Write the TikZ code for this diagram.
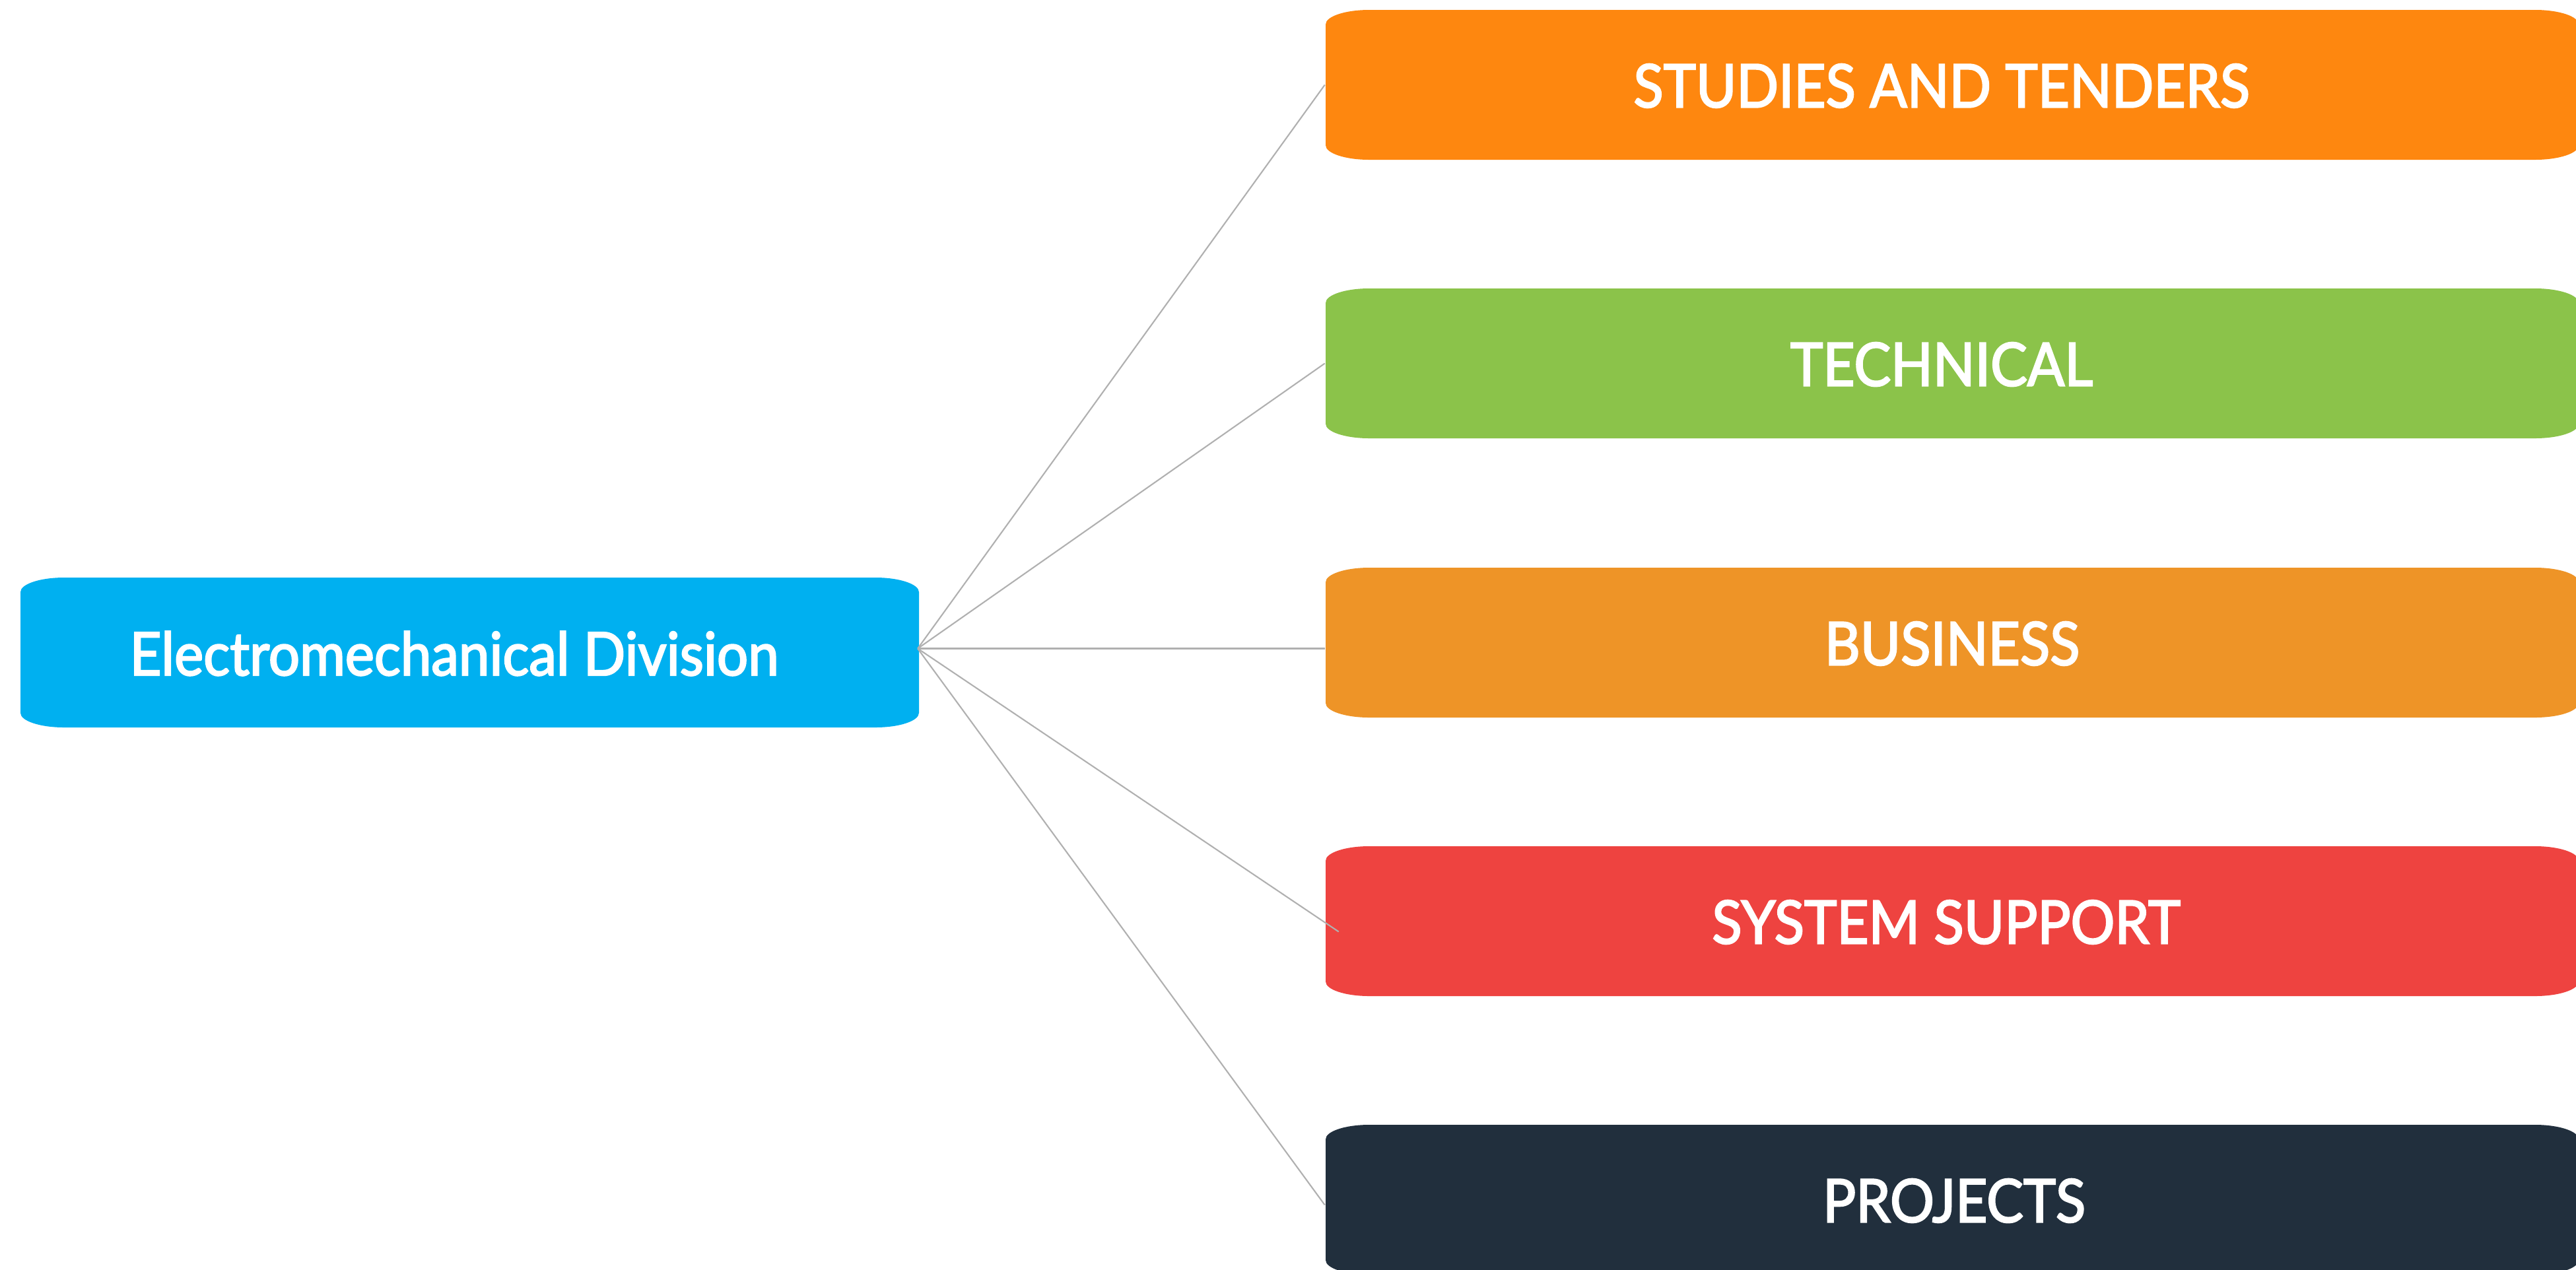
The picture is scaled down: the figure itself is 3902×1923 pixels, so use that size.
\documentclass[tikz,border=0pt]{standalone}
\usepackage{fontspec}
\setmainfont{Lato}
\newfontfamily\lblfont{Lato}[FakeBold=2.5, FakeStretch=0.92]
\definecolor{cblue}{HTML}{00B0F0}
\definecolor{corange}{HTML}{FE870F}
\definecolor{cgreen}{HTML}{8BC34A}
\definecolor{cbiz}{HTML}{EE9427}
\definecolor{cred}{HTML}{EE4340}
\definecolor{cdark}{HTML}{212F3D}
\definecolor{cline}{HTML}{B0B0B0}
\newcommand\ebox[5]{%
  \fill[#5] (#1,#2+22) .. controls (#1,#2+9.85) and (#1+29.5,#2) .. (#1+66,#2)
    -- (#3-66,#2) .. controls (#3-29.5,#2) and (#3,#2+9.85) .. (#3,#2+22)
    -- (#3,#4-22) .. controls (#3,#4-9.85) and (#3-29.5,#4) .. (#3-66,#4)
    -- (#1+66,#4) .. controls (#1+29.5,#4) and (#1,#4-9.85) .. (#1,#4-22) -- cycle;}
\tikzset{
  lbl/.style={text=white, inner sep=0pt, font=\lblfont\fontsize{25.8}{30}\selectfont},
  mainbox/.style={inner sep=0pt, minimum width=13.61cm, minimum height=2.27cm},
  subbox/.style={inner sep=0pt, minimum width=18.98cm, minimum height=2.27cm},
  conn/.style={draw=cline, line width=0.6pt}
}
\begin{document}
\begin{tikzpicture}[x=0.01cm,y=-0.01cm]
\useasboundingbox (0,0) rectangle (3902,1923);
\clip (0,0) rectangle (3902,1923);
\fill[white] (0,0) rectangle (3902,1923);
% shapes
\ebox{31}{875}{1392}{1102}{cblue}
\ebox{2008}{15}{3906}{242}{corange}
\ebox{2008}{437}{3906}{664}{cgreen}
\ebox{2008}{860}{3906}{1087}{cbiz}
\ebox{2008}{1282}{3906}{1509}{cred}
\ebox{2008}{1704}{3906}{1931}{cdark}
% boxes (named)
\node[mainbox] (main) at (711.5,988.5) {};
\node[subbox] (s1) at (2957,128.5) {};
\node[subbox] (s2) at (2957,550.5) {};
\node[subbox] (s3) at (2957,973.5) {};
\node[subbox] (s4) at (2957,1395.5) {};
\node[subbox] (s5) at (2957,1817.5) {};
% labels
\node[lbl] (t0) at (688,990) {Electromechanical Division};
\node[lbl] (t1) at (2941,130) {STUDIES AND TENDERS};
\node[lbl] (t2) at (2941,552) {TECHNICAL};
\node[lbl] (t3) at (2957,975) {BUSINESS};
\node[lbl] (t4) at (2948,1397) {SYSTEM SUPPORT};
\node[lbl] (t5) at (2960,1819) {PROJECTS};
% connectors
\coordinate (hub) at ([xshift=-0.03cm,yshift=0.06cm]main.east);
\draw[conn] (hub) -- (s1.west);
\draw[conn] (hub) -- (s2.west);
\draw[conn] (hub) -- (hub -| s3.west);
\draw[conn] (hub) -- ([xshift=0.21cm,yshift=-0.16cm]s4.west);
\draw[conn] (hub) -- ([yshift=-0.08cm]s5.west);
\end{tikzpicture}
\end{document}
